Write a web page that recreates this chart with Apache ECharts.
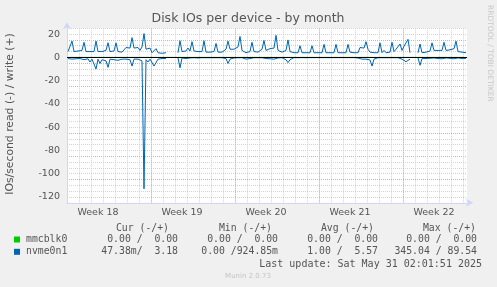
<!DOCTYPE html>
<html><head><meta charset="utf-8">
<script src="https://cdn.jsdelivr.net/npm/echarts@6/dist/echarts.min.js"></script>
<style>html,body{margin:0;padding:0;background:#f0f0f0}#c{width:497px;height:287px}</style>
</head><body><div id="c"></div>
<script>
// time axis: days since Monday 00:00 of week 18
const startDay = 1;          // first sample: Tuesday 00:00, week 18
const stepDays = 1 / 6;      // 4-hour samples
const viewStart = 11 / 12;
const viewEnd = 34.25;
const weekNumbers = [18, 19, 20, 21, 22];
const weekLabels = ['Week 18', 'Week 19', 'Week 20', 'Week 21', 'Week 22'];

// nvme0n1 writes (+) per second
const nvmeWrite = [
 5,4.5,14,5,4.5,5.5,4.5,6,13,5,
 4.5,5,4.5,5,14,5,4.5,5,4.5,6,
 12.6,5,4.5,5.5,12.5,5,4,4.5,6,8.5,
 7,8,17,8,7,8.5,6,9,20.5,7,
 6,8,4,3.5,7.5,4,4.5,3.5,4.5,4,
 null,null,null,null,null,4,14.3,5,4.5,5.5,
 8,5.5,13.5,5.5,4.5,5,4.5,5,14.3,4.5,
 4.5,4.5,4.5,5,12,4.5,4.5,4.5,5,7,
 14,7,6.5,7,7.5,9,18,6,4.5,4,
 4.5,5,13,5,4.5,4.5,6,7,14.5,6,
 7,7.5,7,8,19,6,4.5,4.5,4.5,6,
 15,5,4.5,4,4,4,10,4,4,4,
 4,4,10,4,4,4,4,4,11.2,4,
 4,4,4,4,11.2,4,4,4,4,4,
 11.2,4.5,4,4,4,4,8.5,9,8,13.5,
 7,4.5,4,4,4,4,12.5,4,6,4,
 4.5,4.5,13,5,7,8,11.5,6,9.5,10,
 15.5,4,null,null,null,4,11.5,4,4,4.5,
 5,5.5,12.5,6,5,6,7,6,13,6,
 5.5,6.5,7,7.5,14,5,5.5,4.5,4.5,4
];
// nvme0n1 reads (-) per second
const nvmeRead = [
 -1,-1.2,-1.5,-1.5,-1.2,-1.5,-1,-2,-2,-1.5,
 -1.2,-4,-1.5,-2,-10,-1.5,-5.2,-2,-1.5,-3,
 -8.6,-1.5,-1.2,-2,-2.6,-2.5,-1.5,-1.5,-1.2,-1.5,
 -1.5,-2,-7.5,-1.5,-1.2,-1.5,-1.5,-3,-113,-2,
 -4,-1.5,-2,-7.5,-7,-1.5,-1.2,-1,-1,-1,
 null,null,null,null,null,-0.5,-9,-0.5,-0.5,-1,
 -1.2,-0.5,-0.8,-0.3,-0.3,-0.5,-1.5,-0.3,-1,-0.3,
 -0.3,-0.3,-0.3,-0.3,-0.5,-0.3,-0.3,-0.3,-0.3,-1,
 -5.2,-1.5,-2,-0.5,-0.3,-0.3,-0.5,-0.3,-1,-1.5,
 -0.5,-1,-0.3,-0.3,-0.3,-0.3,-0.3,-0.3,-0.5,-1,
 -1.5,-1.2,-1.5,-1.5,-1.2,-0.5,-0.3,-0.3,-0.3,-2,
 -4.5,-2,-0.5,-0.2,-0.2,-0.3,-0.2,-0.2,-0.2,-0.3,
 -0.2,-0.2,-0.2,-0.2,-0.3,-0.2,-0.2,-0.2,-0.2,-0.2,
 -0.3,-0.2,-0.2,-0.2,-0.2,-0.2,-0.3,-0.2,-0.2,-0.2,
 -0.2,-0.2,-0.3,-0.2,-0.2,-0.5,-1.2,-1.5,-2,-1.5,
 -2,-2.2,-7.5,-1.5,-0.5,-0.3,-0.3,-0.3,-0.3,-0.3,
 -0.3,-0.3,-0.3,-0.3,-0.3,-0.3,-1,-1.5,-2.5,-3.7,
 -2.3,-1.5,null,null,null,-0.5,-6.8,-1,-0.5,-1,
 -0.5,-0.8,-1.2,-0.5,-0.8,-1,-0.5,-1.2,-0.8,-0.5,
 -1,-0.8,-0.5,-1.2,-1,-0.5,-0.8,-1,-0.5,-0.8
];
// mmcblk0: idle all month (daily samples)
const mmcDaily = [0,0,0,0,0,0,0,0,0,0,0,0,0,0,0,0,0,0,0,0,0,0,0,0,0,0,0,0,0,0,0,0,0,0];

// legend table
const legendHeaders = ['Cur (-/+)', 'Min (-/+)', 'Avg (-/+)', 'Max (-/+)'];
const legendNames = ['mmcblk0', 'nvme0n1'];
const legendColors = ['#00cc00', '#0066b3'];
const legendValues = [
  ['0.00 /  0.00', '0.00 /  0.00', '0.00 /  0.00', '0.00 /  0.00'],
  ['47.38m/  3.18', '0.00 /924.85m', '1.00 /  5.57', '345.04 / 89.54']
];
const lastUpdate = 'Last update: Sat May 31 02:01:51 2025';
const titleText = 'Disk IOs per device - by month';
const yTitle = 'IOs/second read (-) / write (+)';

const toPairs = arr => arr.map((v, i) => [startDay + i * stepDays, v]);
const mmcPairs = mmcDaily.map((v, i) => [startDay + i, v]);

const txt = '#555';
const sans = 'DejaVu Sans';
const axisCol = '#cfd6f8';
const monoFont = '9.8px "DejaVu Sans Mono"';

const graphics = [
  {type:'text', x:248, y:19, style:{text:titleText, font:'12.5px "DejaVu Sans"', fill:txt, textAlign:'center', textVerticalAlign:'middle'}},
  {type:'text', x:10, y:114, rotation:Math.PI/2, style:{text:yTitle, font:'10.8px "DejaVu Sans"', fill:txt, textAlign:'center', textVerticalAlign:'middle'}},
  {type:'text', x:489.5, y:5, rotation:-Math.PI/2, style:{text:'RRDTOOL / TOBI OETIKER', font:'7.5px "DejaVu Sans"', fill:'#c8c8c8', textAlign:'left', textVerticalAlign:'middle'}},
  {type:'text', x:482, y:264, style:{text:lastUpdate, font:'10px "DejaVu Sans Mono"', fill:txt, textAlign:'right', textVerticalAlign:'middle'}},
  {type:'text', x:248, y:276, style:{text:'Munin 2.0.73', font:'7px "DejaVu Sans"', fill:'#c4c4c4', textAlign:'center', textVerticalAlign:'middle'}}
];
const headerRight = [169, 272, 374, 476];
const valueRight = [178, 278, 378, 477];
legendHeaders.forEach((h, k) => graphics.push({type:'text', x:headerRight[k], y:228, style:{text:h, font:monoFont, fill:txt, textAlign:'right', textVerticalAlign:'middle'}}));
legendNames.forEach((n, r) => {
  const yy = 239.5 + r * 12.3;
  graphics.push({type:'rect', shape:{x:14, y:yy-3, width:6, height:6}, style:{fill:legendColors[r]}});
  graphics.push({type:'text', x:26, y:yy, style:{text:n, font:monoFont, fill:txt, textAlign:'left', textVerticalAlign:'middle'}});
  legendValues[r].forEach((v, k) => graphics.push({type:'text', x:valueRight[k], y:yy, style:{text:v, font:monoFont, fill:txt, textAlign:'right', textVerticalAlign:'middle'}}));
});

const chart = echarts.init(document.getElementById('c'), null, {renderer:'canvas'});
chart.setOption({
  backgroundColor:'#f0f0f0',
  animation:false,
  grid:{left:67, right:30, top:28.3, bottom:84.2, show:true, backgroundColor:'#ffffff', borderWidth:0},
  xAxis:[
    {type:'value', min:viewStart, max:viewEnd, interval:1,
     axisLine:{show:true, onZero:false, lineStyle:{color:axisCol, width:1}, symbol:['none','arrow'], symbolSize:[6,7], symbolOffset:[0,6]},
     axisTick:{show:false},
     axisLabel:{customValues:weekNumbers.map((w, k) => 3.5 + 7 * k), formatter:(v) => weekLabels[Math.round((v - 3.5) / 7)] || '', color:txt, fontSize:9.5, fontFamily:sans, margin:5},
     splitLine:{show:true, showMinLine:false, showMaxLine:false, lineStyle:{color:'#d2d2d2', type:[1,1], width:1}}},
    {type:'value', min:viewStart, max:viewEnd, interval:7, position:'bottom',
     axisLine:{show:false}, axisTick:{show:false}, axisLabel:{show:false},
     splitLine:{show:true, showMinLine:false, showMaxLine:false, lineStyle:{color:'#f2a0a0', type:[1,1], width:1}}}
  ],
  yAxis:[
    {type:'value', min:-125, max:25, interval:5,
     axisLine:{show:true, onZero:false, lineStyle:{color:axisCol, width:1}, symbol:['none','arrow'], symbolSize:[6,7], symbolOffset:[0,6]},
     axisTick:{show:false},
     axisLabel:{formatter:(v) => (v % 20 === 0 ? String(v) : ''), color:txt, fontSize:9.5, fontFamily:sans, margin:7},
     splitLine:{show:true, showMinLine:false, showMaxLine:true, lineStyle:{color:'#d2d2d2', type:[1,1], width:1}}},
    {type:'value', min:-125, max:25, interval:20, position:'left',
     axisLine:{show:false}, axisTick:{show:false}, axisLabel:{show:false},
     splitLine:{show:true, showMinLine:false, showMaxLine:false, lineStyle:{color:'#f2a0a0', type:[1,1], width:1}}}
  ],
  series:[
    {name:'mmcblk0', type:'line', data:mmcPairs, showSymbol:false, lineStyle:{color:'#00cc00', width:1}, itemStyle:{color:'#00cc00'}},
    {name:'nvme0n1 write', type:'line', data:toPairs(nvmeWrite), showSymbol:false, connectNulls:false, lineStyle:{color:'#0066b3', width:1}, itemStyle:{color:'#0066b3'}},
    {name:'nvme0n1 read', type:'line', data:toPairs(nvmeRead), showSymbol:false, connectNulls:false, lineStyle:{color:'#0066b3', width:1}, itemStyle:{color:'#0066b3'},
     markLine:{silent:true, symbol:'none', label:{show:false}, lineStyle:{color:'#000000', width:1.2, type:'solid'}, data:[{yAxis:0}]}}
  ],
  graphic:graphics
});
</script></body></html>
